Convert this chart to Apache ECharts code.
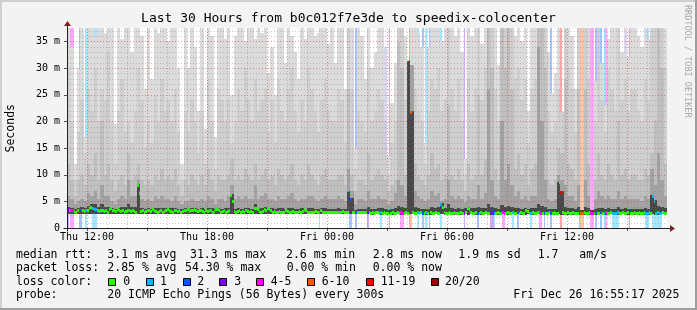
<!DOCTYPE html>
<html><head><meta charset="utf-8">
<script src="https://cdn.jsdelivr.net/npm/echarts@6/dist/echarts.min.js"></script>
<style>html,body{margin:0;padding:0;background:#f3f3f3}#c{width:697px;height:310px}</style>
</head><body><div id="c"></div>
<script>
// ---------------- data ----------------
const titleText = 'Last 30 Hours from b0c012f7e3de to speedix-colocenter';
const yAxisName = 'Seconds';
const xTickMinutes = [60, 420, 780, 1140, 1500];          // minutes after Thu 11:00
const xTickLabels = ['Thu 12:00', 'Thu 18:00', 'Fri 00:00', 'Fri 06:00', 'Fri 12:00'];
const yTickValues = [0, 5, 10, 15, 20, 25, 30, 35];
const yTickLabels = ['0', '5 m', '10 m', '15 m', '20 m', '25 m', '30 m', '35 m'];
const STEP_MIN = 5;   // median / loss resolution (minutes)
const COL_MIN = 10;   // smoke resolution (minutes)

// smoke (ms) per 10-minute column, 180 columns
const smokeMin = [
2.7,2.7,2.6,2.7,2.6,2.6,2.7,2.6,2.7,2.6, 2.6,2.7,2.6,2.6,2.7,2.6,2.6,2.7,2.6,2.6,
2.7,2.6,2.6,2.7,2.6,2.6,2.7,2.6,2.6,2.7, 2.6,2.6,2.7,2.6,2.6,2.6,2.7,2.6,2.6,2.6,
2.7,2.6,2.6,2.6,2.7,2.6,2.6,2.6,2.7,2.6, 2.6,2.6,2.7,2.6,2.6,2.6,2.6,2.7,2.6,2.6,
2.6,2.7,2.6,2.6,2.6,2.6,2.7,2.6,2.6,2.6, 2.6,2.6,2.6,2.7,2.6,2.6,2.6,2.6,2.7,2.6,
2.6,2.6,2.6,2.6,2.6,2.7,2.6,2.6,2.6,2.6, 2.6,2.5,2.6,2.6,2.5,2.6,2.6,2.5,2.6,2.6,
2.5,2.6,2.6,2.6,2.5,2.6,2.6,2.5,2.6,2.5, 2.6,2.5,2.6,2.5,2.6,2.6,2.5,2.6,2.5,2.6,
2.5,2.6,2.5,2.6,2.5,2.6,2.5,2.5,2.6,2.5, 2.6,2.5,2.5,2.6,2.5,2.6,2.5,2.5,2.6,2.5,
2.5,2.6,2.5,2.5,2.6,2.5,2.5,2.6,2.5,2.6, 2.5,2.5,2.6,2.5,2.6,2.5,2.5,2.6,2.5,2.5,
2.6,2.5,2.5,2.6,2.5,2.5,2.6,2.5,2.5,2.6, 2.5,2.5,2.6,2.5,2.5,2.6,2.5,2.5,2.6,2.5];
const smokeDark = [
4,3.8,3.6,3.8,4,3.8,4.2,4.5,4.5,4, 4.5,4,4,3.8,3.6,3.8,4,4,4.5,4,
4,8.3,3.8,3.6,3.8,3.6,3.8,3.7,3.8,3.7, 3.8,3.7,3.8,3.6,3.5,3.7,3.6,3.8,3.7,3.6,
3.7,3.6,3.8,3.7,3.5,3.7,3.6,3.7,3.8,6.3, 3.6,3.7,3.6,3.8,3.7,3.6,4.5,3.6,3.7,3.9,
3.6,3.7,3.6,3.8,3.7,3.6,3.7,3.8,3.6,3.6, 3.7,3.6,3.8,3.7,3.6,3.6,3.7,3.8,3.6,3.6,
3.6,3.7,3.6,3.5,6.8,5.6,3.4,3.6,3.6,3.5, 4,3.6,3.6,3.8,3.7,3.6,3.4,3.5,3.8,4.2,
4,3.8,31.3,22,4,3.8,3.6,3.5,3.6,3.9, 3.8,4,4.7,3.7,4.5,3.8,3.6,3.8,3.6,3.8,
3.9,3.7,3.7,4,3.7,3.8,4.5,4,3.8,3.6, 4.4,4,4.2,3.9,3.7,3.8,3.6,3.7,3.5,3.7,
3.8,4.5,4.2,3.9,3.6,3.5,3.6,8.7,6.9,4, 3.7,3.7,3.6,4,3.3,4,3.7,3.3,3.6,3.8,
3.7,3.6,3.8,3.6,3.6,4,3.6,3.7,3.6,3.6, 3.6,3.6,3.6,3.7,3.6,6.1,5.2,4.2,3.9,3.7];
const smokeL4 = [
6,5.5,4.5,5,5.5,5,6.5,6,7,5.5, 8,6,6,5,4.5,5.5,6,5.5,9,6,
6,9,5.5,5,5.5,5,6,5.5,6,5.5, 5.5,5,6,5,4.5,5,5,5.5,5,5,
5.5,5,6,5.5,4.5,5.5,5.5,5,6,8, 5.5,6,5.5,6,5.5,5.5,8,5.5,6,6.5,
5.5,5.5,5,6,5.5,5.5,6,6.5,5.5,5, 5.5,5.5,6,6,5.5,5,5.5,6,5.5,5.5,
5.5,6,5.5,5,11,7,4.5,5.5,5.5,5, 7,5.5,5.5,6,5.5,5.5,4.5,5,6.5,9,
8,6,31.3,30.5,7,6,5.5,5,5.5,7, 6,6.5,5,5.5,9,6,5.5,6,5.5,4.8,
6,5.5,5.5,8,5.5,6.5,26,9,6,5.5, 20,9,12,8,6,7,5.5,6,5,6,
6,34,20,9,5.5,5,5.5,10,9,8, 6,6,5,8,3.3,9,6,3.3,5.5,7,
6,5.5,6,5.5,5.5,7,5.5,6,5.5,5.5, 5.5,5.5,5,6,5.5,11,8,14,9,6];
const smokeL3 = [
12,9,6,9,10,8,12,10,14,9, 20,10,12,9,7,9,10,8,14,9,
10,12,9,8,9,8,10,9,11,9, 10,9,11,8,6,9,8,10,9,8,
10,8,11,9,7,10,9,9,10,13, 9,10,9,11,10,9,12,9,10,11,
9,10,8,11,10,9,10,12,9,8, 10,9,12,10,9,8,10,11,9,9,
9,10,10,8,26,10,7,9,9,8, 14,9,10,11,10,9,7,8,9,34.8,
30,10,31.3,30.5,12,10,9,8,10,14, 11,12,9,10,23,10,9,11,9,7,
12,9,10,25,10,13,37.5,30,11,9, 37.5,30,37.5,26,11,14,10,12,8,11,
12,37.5,37.5,30,9,8,9,15,14,28, 12,11,9,26,3.3,26,12,3.3,9,14,
10,9,12,10,9,20,10,11,9,10, 10,9,9,11,10,14,20,37.5,30,12];
const smokeL2 = [
30,20,9,18,24,14,26,22,30,20, 26,24,33,20,12,22,28,18,20,16,
22,30,24,15,20,16,25,20,28,22, 24,20,26,18,9,22,18,24,20,14,
22,12,28,20,11,26,24,20,24,16, 20,26,22,30,24,20,28,22,24,26,
18,24,16,28,22,20,26,30,22,18, 24,20,30,26,22,18,24,28,22,20,
20,26,24,16,37.5,26,11,22,20,18, 30,20,22,26,24,20,10,16,20,37.5,
37.5,24,31.3,30,26,22,20,12,22,28, 26,30,22,24,37.5,26,22,28,20,10,
28,22,26,37.5,24,30,37.5,37.5,26,20, 37.5,37.5,37.5,37.5,28,30,24,28,16,26,
28,37.5,37.5,37.5,22,18,20,26,21.7,37.5, 30,26,18,37.5,3.3,37.5,28,3.3,20,37.5,
24,18,30,26,22,37.5,24,28,22,26, 26,22,20,28,24,37.5,37.5,37.5,37.5,30];
const smokeMax = [
37.5,34,12,30,37.5,17,37.5,37.5,36,37.5, 37.5,36.5,37.5,37.5,19.5,37.5,35.5,37.5,37.5,33,
37.5,37.5,36,26,37.5,28,37.5,36.5,37.5,37.5, 35,37.5,37.5,30,12,37.5,30,37.5,34,22,
37.5,18.5,37.5,36,17,37.5,37.5,35.5,37.5,25, 36,37.5,37.5,35,37.5,37.5,35.5,37.5,36.5,37.5,
29,34,25,37.5,37.5,31,37.5,36,33,28, 37.5,35.5,37.5,37.5,36,36.5,37.5,37.5,34.5,37.5,
31,37.5,37.5,26,37.5,37.5,15,37.5,36,28, 37.5,30,33,37.5,37.5,34,13.5,23.5,31,37.5,
37.5,36,31.3,37.5,37.5,36.5,34,16,34,37.5, 37.5,37.5,35,37.5,37.5,37.5,36,37.5,33,13,
37.5,36,37.5,37.5,34.5,37.5,37.5,37.5,37.5,30.5, 37.5,37.5,37.5,37.5,36,37.5,35,37.5,22,37.5,
37.5,37.5,37.5,37.5,33,25.4,29,37.5,21.7,37.5, 37.5,36,26,37.5,3.3,37.5,37.5,3.3,27.6,37.5,
31,23,35.5,37.5,37.5,37.5,33,37.5,32,37.5, 37.5,36,34,37.5,35.5,37.5,37.5,37.5,37.5,37.5];

// median rtt (ms) per 5-minute step, 360 steps
const medianRtt = [
3.4,3.2,3.3,3.3,3.1,3.0,3.2,3.4,3.3,3.2,3.1,3.3,3.2,3.6,3.9,3.7,3.4,3.5,3.2,3.1,
3.2,3.3,3.1,3.2,3.0,3.5,3.6,3.3,3.2,3.1,3.5,3.3,3.1,3.2,3.0,3.1,3.2,3.3,3.1,3.2,
3.1,3.0,8.0,6.5,3.1,3.2,3.0,3.1,3.3,3.2,3.1,3.5,3.3,3.1,3.0,3.1,3.2,3.0,3.1,3.2,
3.4,3.2,3.1,3.0,3.2,3.3,3.1,3.2,3.0,3.1,3.3,3.2,3.4,3.1,3.2,3.3,3.5,3.2,3.1,3.3,
3.2,3.1,3.0,3.2,3.1,3.3,3.2,3.0,3.1,3.5,3.4,3.2,3.0,3.1,3.2,3.0,3.1,3.3,6.1,5.0,
3.1,3.0,3.1,3.2,3.0,3.1,3.0,3.2,3.1,3.0,3.1,3.0,3.6,3.7,3.4,3.1,3.0,3.1,3.4,3.2,
3.7,3.5,3.2,3.0,3.1,2.9,3.0,3.1,3.0,2.9,3.0,3.2,3.1,2.9,3.0,3.1,3.0,2.9,3.0,3.1,
3.0,3.1,3.5,3.2,3.0,2.9,3.0,2.9,3.0,3.1,2.9,3.0,3.3,3.0,2.9,3.0,3.0,2.9,3.0,3.0,
2.9,3.0,3.0,2.9,3.0,3.1,3.0,2.9,3.0,6.6,5.4,3.0,2.9,3.0,2.9,3.0,3.0,2.9,3.0,2.9,
3.0,2.9,2.8,2.9,2.8,2.9,2.9,2.8,2.9,2.8,2.9,2.8,2.8,2.9,2.8,2.9,2.8,2.8,2.9,2.8,
2.9,2.8,2.8,2.9,2.8,31.2,21.6,2.9,2.8,2.8,2.9,2.8,2.9,2.8,2.8,2.9,2.8,2.8,2.9,2.8,
2.8,2.9,2.8,2.8,4.5,3.9,2.9,2.8,2.8,2.9,2.8,2.8,2.9,2.8,2.8,2.8,2.9,2.8,2.8,2.9,
3.7,3.5,2.9,2.8,2.8,2.9,2.8,2.8,2.9,2.8,2.8,2.9,2.8,2.8,2.9,2.8,2.8,2.8,2.9,2.8,
2.8,2.9,2.8,2.8,2.9,2.8,2.8,2.9,2.8,2.8,2.9,2.8,2.9,2.8,2.8,3.2,3.1,2.8,2.8,2.9,
2.8,2.8,2.9,3.1,2.8,2.8,2.9,2.8,2.8,2.9,2.8,2.8,2.9,2.8,2.8,8.6,6.7,2.9,2.8,2.8,
2.9,2.8,2.8,2.9,2.8,2.8,2.8,2.9,2.8,2.8,2.9,2.8,2.8,2.9,2.7,2.8,2.8,2.9,2.8,2.8,
2.9,2.8,2.8,2.9,2.8,2.8,2.9,2.8,2.8,2.8,2.9,2.8,2.8,2.9,2.8,2.8,2.9,2.8,2.8,2.8,
2.9,2.8,2.8,2.9,2.8,2.8,2.9,2.8,2.8,2.9,2.8,5.9,5.0,2.8,2.9,2.8,2.8,2.9,2.8,2.8];

// packet-loss class per step: [step, class]; class index into lossLabels
const lossSteps = [
[0,3],[2,4],[3,4],[7,2],[8,2],[11,1],[15,1],[16,1],[17,1],
[151,1],[169,2],[170,2],[173,2],[180,3],[188,1],[193,3],[200,4],[201,4],[205,6],[206,5],
[210,1],[213,2],[215,1],[217,2],[224,1],[238,3],[246,2],[254,3],[255,3],[256,1],[261,4],[262,4],
[267,1],[270,2],[278,1],[283,4],[284,4],[286,2],[290,2],[296,6],[307,2],[308,5],[309,5],
[314,4],[315,4],[317,2],[320,2],[322,1],[323,4],[327,1],[328,1],[329,1],[330,1],[337,3],
[347,1],[348,1],[351,1],[352,1],[353,1],[354,1],[355,1],[356,1]];
const lossLabels = ['0', '1', '2', '3', '4-5', '6-10', '11-19', '20/20'];
const lossColors = ['#26ff00', '#00b8ff', '#0059ff', '#7e00ff', '#ff00ff', '#ff5500', '#ff0000', '#a10000'];

const statLine1 = ['median rtt:', '3.1 ms avg', '31.3 ms max', '2.6 ms min', '2.8 ms now', '1.9 ms sd', '1.7', 'am/s'];
const statLine2 = ['packet loss:', '2.85 % avg', '54.30 % max', '0.00 % min', '0.00 % now'];
const lossTitle = 'loss color:';
const probeLine = ['probe:', '20 ICMP Echo Pings (56 Bytes) every 300s', 'Fri Dec 26 16:55:17 2025'];
const watermark = 'RRDTOOL / TOBI OETIKER';

// ---------------- chart ----------------
const Y_MAX = 37.5, X_MAX = 1800;
const MONO = '"DejaVu Sans Mono", "Liberation Mono", monospace';
const SMOKE_COLORS = ['#484848', '#a2a2a2', '#bfbfbf', '#cfcfcf', '#dbdbdb'];
function lightLoss(hex) {
  const r = parseInt(hex.slice(1,3),16), g = parseInt(hex.slice(3,5),16), b = parseInt(hex.slice(5,7),16);
  return 'rgba(' + r + ',' + g + ',' + b + ',0.35)';
}
const lossByStep = {};
lossSteps.forEach(p => { lossByStep[p[0]] = p[1]; });

const smokeData = smokeMax.map((m, i) => [i * COL_MIN, smokeMin[i], smokeDark[i], smokeL4[i], smokeL3[i], smokeL2[i], m]);
const medianData = medianRtt.map((v, i) => [i * STEP_MIN, v, lossByStep[i] || 0]);
const stripeData = lossSteps.map(p => [p[0] * STEP_MIN, p[1]]);
const gridData = [];
for (let h = 1; h < 30; h++) gridData.push([0, h * 60]);
for (let v = 1; v <= 37; v++) gridData.push([1, v]);

const chart = echarts.init(document.getElementById('c'), null, {renderer: 'canvas', devicePixelRatio: 1});

function px(api, x, y) { return api.coord([x, y]); }

chart.setOption({
  animation: false,
  backgroundColor: '#f3f3f3',
  grid: {left: 67, top: 28, width: 600, height: 200, show: true, backgroundColor: '#ffffff', borderWidth: 0},
  xAxis: {
    type: 'value', min: 0, max: X_MAX, interval: 60,
    axisLine: {show: false}, axisTick: {show: false}, splitLine: {show: false},
    axisLabel: {
      margin: 4, color: '#000', fontFamily: MONO, fontSize: 10,
      formatter: v => { const i = xTickMinutes.indexOf(v); return i >= 0 ? xTickLabels[i] : ''; }
    }
  },
  yAxis: {
    type: 'value', min: 0, max: Y_MAX, interval: 5,
    axisLine: {show: false}, axisTick: {show: false}, splitLine: {show: false},
    axisLabel: {
      margin: 7, color: '#000', fontFamily: MONO, fontSize: 10,
      formatter: v => { const i = yTickValues.indexOf(v); return i >= 0 ? yTickLabels[i] : ''; }
    }
  },
  series: [
    { // loss background stripes
      type: 'custom', z: 1, data: stripeData, silent: true,
      renderItem: (params, api) => {
        const t = api.value(0), c = api.value(1);
        const a = px(api, t, 0), b = px(api, t + STEP_MIN, Y_MAX);
        const x0 = Math.round(a[0]), x1 = Math.round(b[0]);
        return {type: 'rect', shape: {x: x0, y: Math.round(b[1]), width: x1 - x0, height: Math.round(a[1]) - Math.round(b[1])},
                style: {fill: lightLoss(lossColors[c])}};
      }
    },
    { // smoke
      type: 'custom', z: 2, data: smokeData, silent: true,
      renderItem: (params, api) => {
        const t = api.value(0);
        const vals = [api.value(1), api.value(2), api.value(3), api.value(4), api.value(5), api.value(6)];
        const x0 = Math.round(px(api, t, 0)[0]), x1 = Math.round(px(api, t + COL_MIN, 0)[0]);
        const children = [];
        let prev = vals[0];
        for (let k = 1; k < 6; k++) {
          const top = Math.min(Math.max(vals[k], prev), Y_MAX);
          if (top > prev) {
            const yb = Math.round(px(api, t, prev)[1]), yt = Math.round(px(api, t, top)[1]);
            if (yb > yt) children.push({type: 'rect', shape: {x: x0, y: yt, width: x1 - x0, height: yb - yt}, style: {fill: SMOKE_COLORS[k - 1]}});
          }
          prev = Math.max(prev, top);
        }
        return {type: 'group', children};
      }
    },
    { // grid lines on top of smoke
      type: 'custom', z: 3, data: gridData, silent: true, clip: false,
      renderItem: (params, api) => {
        const kind = api.value(0), v = api.value(1);
        if (kind === 0) {
          const a = px(api, v, 0), b = px(api, v, Y_MAX);
          const x = Math.round(a[0]) + 0.5;
          const major = ((v - 60) % 180) === 0;
          const ch = [{type: 'line', shape: {x1: x, y1: a[1], x2: x, y2: b[1]},
                   style: {stroke: major ? 'rgba(190,50,50,0.5)' : 'rgba(130,130,130,0.45)', lineWidth: 1, lineDash: [1, 2]}}];
          if (major) ch.push({type: 'line', shape: {x1: x, y1: a[1], x2: x, y2: a[1] + 3}, style: {stroke: '#555', lineWidth: 1}});
          return {type: 'group', children: ch};
        } else {
          const a = px(api, 0, v), b = px(api, X_MAX, v);
          const y = Math.round(a[1]) + 0.5;
          const major = (v % 5) === 0;
          const ch = [{type: 'line', shape: {x1: a[0], y1: y, x2: b[0], y2: y},
                   style: {stroke: major ? 'rgba(190,50,50,0.5)' : 'rgba(130,130,130,0.45)', lineWidth: 1, lineDash: [1, 2]}}];
          if (major) ch.push({type: 'line', shape: {x1: a[0] - 3, y1: y, x2: a[0], y2: y}, style: {stroke: '#555', lineWidth: 1}});
          return {type: 'group', children: ch};
        }
      }
    },
    { // median, coloured by loss
      type: 'custom', z: 4, data: medianData, silent: true,
      renderItem: (params, api) => {
        const t = api.value(0), v = api.value(1), c = api.value(2);
        const x0 = Math.round(px(api, t, v)[0]), x1 = Math.round(px(api, t + STEP_MIN, v)[0]);
        const yc = px(api, t, v)[1];
        return {type: 'rect', shape: {x: x0, y: Math.round(yc - 1.5), width: x1 - x0, height: 3}, style: {fill: lossColors[c]}};
      }
    }
  ]
});

// ---------- frame, axes, arrows and texts ----------
const o = chart.convertToPixel({gridIndex: 0}, [0, 0]);
const e = chart.convertToPixel({gridIndex: 0}, [X_MAX, Y_MAX]);
const ox = Math.round(o[0]) + 0.5, oy = Math.round(o[1]) + 0.5;
const ex = e[0], ey = e[1];
const W = 697, H = 310;
const g = [];
g.push({type: 'rect', shape: {x: 0, y: 0, width: W, height: 2}, style: {fill: '#cfcfcf'}, z: 50});
g.push({type: 'rect', shape: {x: 0, y: 0, width: 2, height: H}, style: {fill: '#cfcfcf'}, z: 50});
g.push({type: 'rect', shape: {x: 0, y: H - 2, width: W, height: 2}, style: {fill: '#9e9e9e'}, z: 51});
g.push({type: 'rect', shape: {x: W - 2, y: 0, width: 2, height: H}, style: {fill: '#9e9e9e'}, z: 51});
g.push({type: 'line', shape: {x1: ox - 4, y1: oy, x2: ex + 4, y2: oy}, style: {stroke: '#222', lineWidth: 1}, z: 40});
g.push({type: 'line', shape: {x1: ox, y1: oy + 3, x2: ox, y2: ey - 3}, style: {stroke: '#222', lineWidth: 1}, z: 40});
g.push({type: 'polygon', shape: {points: [[ex + 3, oy - 3.5], [ex + 8, oy], [ex + 3, oy + 3.5]]}, style: {fill: '#7f1f1f'}, z: 41});
g.push({type: 'polygon', shape: {points: [[ox - 3.5, ey - 2], [ox, ey - 7], [ox + 3.5, ey - 2]]}, style: {fill: '#7f1f1f'}, z: 41});
const txt = (x, y, text, size) => ({type: 'text', x: x, y: y, z: 60,
  style: {text: text, font: size + 'px ' + MONO, fill: '#000', align: 'left', verticalAlign: 'middle', textAlign: 'left', textVerticalAlign: 'middle'}});
g.push({type: 'text', x: W / 2, y: 18.5, z: 60,
  style: {text: titleText, font: '13px ' + MONO, fill: '#000', align: 'center', textAlign: 'center', verticalAlign: 'middle', textVerticalAlign: 'middle'}});
g.push({type: 'text', x: 11, y: (oy + ey) / 2, rotation: Math.PI / 2, z: 60,
  style: {text: yAxisName, font: '11.5px ' + MONO, fill: '#000', align: 'center', textAlign: 'center', verticalAlign: 'middle', textVerticalAlign: 'middle'}});
g.push({type: 'text', x: 687, y: 5, rotation: -Math.PI / 2, z: 60,
  style: {text: watermark, font: '8.5px ' + MONO, fill: '#a8a8a8', align: 'left', textAlign: 'left', verticalAlign: 'middle', textVerticalAlign: 'middle'}});
const L = 11.5;
const row1X = [16, 107.3, 190, 286, 372.7, 458.3, 537.7, 579.3];
statLine1.forEach((s, i) => g.push(txt(row1X[i], 255, s, L)));
const row2X = [16, 107.3, 185, 286.7, 372.7];
statLine2.forEach((s, i) => g.push(txt(row2X[i], 268.5, s, L)));
g.push(txt(16, 282, lossTitle, L));
const boxX = [108.3, 145.7, 182.7, 219.3, 256, 307.3, 365.7, 431];
const lblX = [123.3, 160, 197.3, 234.3, 270.7, 321.7, 380.7, 445];
lossLabels.forEach((s, i) => {
  g.push({type: 'rect', z: 60, shape: {x: Math.round(boxX[i]) + 0.5, y: 278.5, width: 7, height: 7}, style: {fill: lossColors[i], stroke: '#000', lineWidth: 1}});
  g.push(txt(lblX[i], 282, s, L));
});
const row4X = [16, 107.3, 513.3];
probeLine.forEach((s, i) => g.push(txt(row4X[i], 295.5, s, L)));

chart.setOption({graphic: {elements: g}});
</script>
</body></html>
